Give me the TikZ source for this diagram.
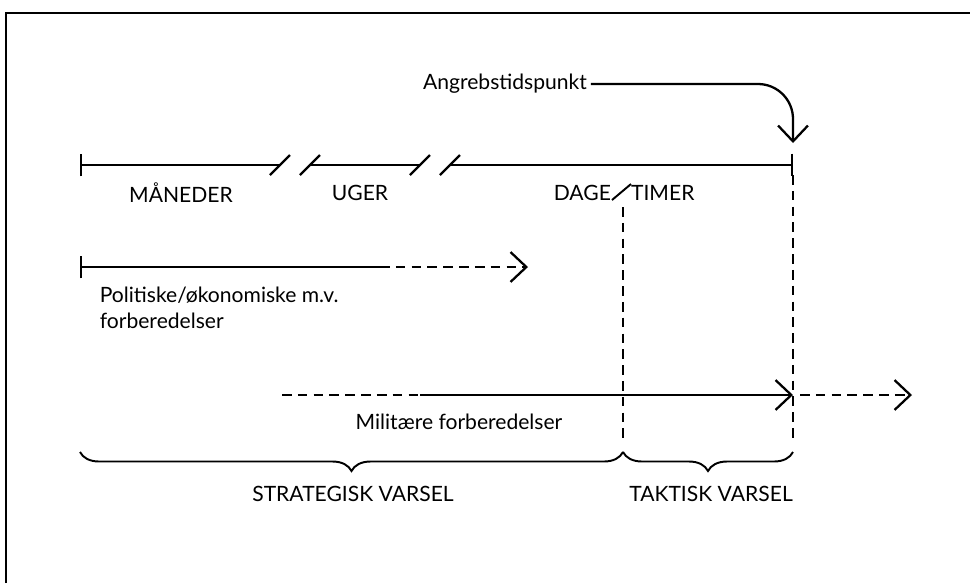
\documentclass[tikz,border=0pt]{standalone}
\usepackage{fontspec}
\setmainfont{Lato}
\usetikzlibrary{arrows.meta,decorations.pathreplacing}
\tikzset{
	line/.style={line width=1.3pt},
	tip/.style={-{Straight Barb[length=9pt,width=17pt,line width=1.3pt]}},
	dash line/.style={line width=1.3pt, dash pattern=on 5.5pt off 3.5pt},
	lbl/.style={font=\fontsize{12}{15}\selectfont, inner sep=2pt},
	varsel/.style={line width=1.1pt, decorate, decoration={brace, mirror, amplitude=0.38cm}}
}
\begin{document}
\begin{tikzpicture}[x=0.02cm, y=-0.02cm]
		\useasboundingbox (0, 0) rectangle (970, 583);
		\draw[line width=1.2pt] (6, 583) -- (6, 13) -- (970, 13);

		% tidsakse
		\draw[line, {Bar[width=13pt,line width=1.3pt]}-] (80, 165) -- (280, 165);
		\draw[line] (310, 165) -- (420, 165);
		\draw[line, -{Bar[width=13pt,line width=1.3pt]}] (450, 165) -- (793, 165);
		\foreach \x in {280, 310, 420, 450}{\draw[line] (\x-10, 175) -- (\x+10, 155);}
		\node[lbl] (maaneder) at (181, 193) {MÅNEDER};
		\node[lbl] (uger) at (360, 193) {UGER};
		\node[lbl, anchor=east, inner sep=1pt] (dage) at (613, 193) {DAGE};
		\node[lbl, anchor=west, inner sep=1pt] (timer) at (629, 193) {TIMER};
		\draw[line width=1.1pt] (612, 200) -- (631, 184);

		% angrebstidspunkt
		\node[lbl] (angreb) at (505, 84) {Angrebstidspunkt};
		\coordinate (tidspunkt) at (793, 143);
		\draw[line, tip, rounded corners=0.7cm] (angreb.east) -- (793, 84) -- (tidspunkt);

		% skillelinjer
		\draw[dash line] (623, 207) -- (623, 442);
		\draw[dash line] (793, 175) -- (793, 442);

		% politiske forberedelser
		\draw[line, {Bar[width=13pt,line width=1.3pt]}-] (80, 267) -- (380, 267);
		\draw[dash line, tip] (380, 267) -- (528, 267);
		\node[lbl, anchor=north west, align=left] (politiske) at (96, 283) {Politiske/økonomiske m.v.\\forberedelser};

		% militaere forberedelser
		\draw[dash line] (282, 395) -- (420, 395);
		\draw[line, tip] (420, 395) -- (793, 395);
		\draw[dash line, tip] (800, 395) -- (912, 395);
		\node[lbl] (militaere) at (459, 422) {Militære forberedelser};

		% varsel
		\draw[varsel] (80, 452) -- (623, 452);
		\draw[varsel] (623, 452) -- (793, 452);
		\node[lbl] (strategisk) at (353, 494) {STRATEGISK VARSEL};
		\node[lbl] (taktisk) at (711, 494) {TAKTISK VARSEL};
	\end{tikzpicture}
\end{document}
